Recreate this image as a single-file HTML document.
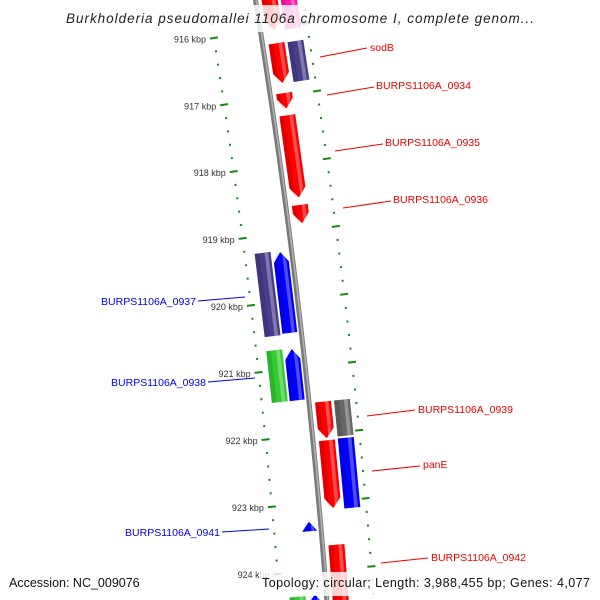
<!DOCTYPE html>
<html><head><meta charset="utf-8"><style>
html,body{margin:0;padding:0;background:#fff;width:600px;height:600px;overflow:hidden;}
svg{display:block;font-family:"Liberation Sans",sans-serif;}
</style></head><body>
<svg id="map" width="600" height="600" viewBox="0 0 600 600" overflow="hidden" xmlns="http://www.w3.org/2000/svg">
<g id="rulers"></g>
<g id="backbone"></g>
<g id="genes"></g>
<g id="labels"></g>
<rect x="58" y="5" width="484" height="27" fill="#fff" opacity="0.82"/>
<text x="300" y="23" text-anchor="middle" font-size="13.5" font-style="italic" fill="#222" textLength="468">Burkholderia pseudomallei 1106a chromosome I, complete genom...</text>
<rect x="6" y="572" width="142" height="24" fill="#fff" opacity="0.82"/>
<text x="9" y="587" font-size="12.5" fill="#111">Accession: NC_009076</text>
<rect x="259" y="572" width="334" height="24" fill="#fff" opacity="0.82"/>
<text x="590" y="587" text-anchor="end" font-size="12.5" fill="#111" textLength="328">Topology: circular; Length: 3,988,455 bp; Genes: 4,077</text>
</svg>
<script>
const R = 7143, CX = 347.5 - 7143, CY = 1143;
const A0 = 0.15636, DK = 0.009511;
const NS = 'http://www.w3.org/2000/svg';
function P(k, v){ const a = A0 - (k - 916) * DK, r = R + v; return [CX + r*Math.cos(a), CY - r*Math.sin(a)]; }
function pts(arr){ return arr.map(p => P(p[0], p[1]).map(n => n.toFixed(2)).join(',')).join(' '); }

const tickKbp = [915, 916, 917, 918, 919, 920, 921, 922, 923, 924, 925];
const tickLabels = ['915 kbp','916 kbp','917 kbp','918 kbp','919 kbp','920 kbp','921 kbp','922 kbp','923 kbp','924 kbp','925 kbp'];
const geneStart = [915.0, 915.0, 916.22, 916.23, 916.96, 917.29, 918.62, 921.53, 921.53, 922.10, 922.09, 923.64, 919.27, 919.25, 920.71, 920.70, 923.27, 924.34, 924.36];
const geneEnd   = [916.02, 916.04, 916.81, 916.82, 917.19, 918.51, 918.89, 922.07, 922.06, 923.10, 923.12, 925.2, 920.47, 920.49, 921.47, 921.47, 923.41, 925.2, 925.2];
const geneLane  = [1, 2, 1, 2, 1, 1, 1, 1, 2, 1, 2, 1, -1, -2, -1, -2, -1, -1, -2];
const geneStrand= [1, 0, 1, 0, 1, 1, 1, 1, 0, 1, 0, 1, -1, 0, -1, 0, -1, -1, 0];
const geneColor = ['#ff0000','#ff1aa6','#ff0000','#483d8b','#ff0000','#ff0000','#ff0000','#ff0000','#666666','#ff0000','#0000ff','#ff0000','#0000ff','#483d8b','#0000ff','#33cc33','#0000ff','#0000ff','#33cc33'];
const laneV = {1:[6,22], 2:[25,41], '-1':[-19,-4], '-2':[-37,-21]};

function el(tag, attrs, parent){ const e = document.createElementNS(NS, tag); for (const k in attrs) e.setAttribute(k, attrs[k]); parent.appendChild(e); return e; }

const rul = document.getElementById('rulers');
[-47, 47].forEach(side => {
  for (let i = 0; i <= 50; i++) {
    const k = 915 + i * 0.2;
    const major = i % 5 === 0;
    const len = major ? 4 : 1;
    const a = P(k, side - len), b = P(k, side + len);
    const t = el('line', {x1:a[0], y1:a[1], x2:b[0], y2:b[1], stroke:'#138a13', 'stroke-width': 2}, rul);
    
    
  }
});
tickKbp.forEach((k, i) => {
  const p = P(k, -55);
  const t = el('text', {x:p[0], y:p[1]+3.5, 'text-anchor':'end', 'font-size':9, fill:'#333'}, rul);
  
  
  t.textContent = tickLabels[i];
});

const bb = document.getElementById('backbone');
let d1 = [];
for (let k = 914.5; k <= 925.2; k += 0.25) d1.push(P(k, 0).map(n=>n.toFixed(2)).join(','));
const bl = el('polyline', {points:d1.join(' '), fill:'none', stroke:'#7a7a7a', 'stroke-width':5}, bb);


const bh = el('polyline', {points:d1.join(' '), fill:'none', stroke:'#b0b0b0', 'stroke-width':1.6, transform:'translate(0.8,0)'}, bb);



const gg = document.getElementById('genes');
geneStart.forEach((s, i) => {
  const e = geneEnd[i], [v1, v2] = laneV[geneLane[i]], vm = (v1+v2)/2;
  const h = Math.min(0.15, e - s);
  let poly;
  if (geneStrand[i] === 1) poly = [[s,v1],[s,v2],[e-h,v2],[e,vm],[e-h,v1]];
  else if (geneStrand[i] === -1) poly = [[s,vm],[s+h,v2],[e,v2],[e,v1],[s+h,v1]];
  else poly = [[s,v1],[s,v2],[e,v2],[e,v1]];
  const g = el('g', {}, gg);
  
  
  el('polygon', {points:pts(poly), fill:geneColor[i]}, g);
  const w = v2 - v1;
  const clip = (a, b) => poly.map(p => [p[0], Math.max(v1 + a*w, Math.min(v1 + b*w, p[1]))]);
  el('polygon', {points:pts(clip(0, 0.3)), fill:'#000', opacity:0.12}, g);
  el('polygon', {points:pts(clip(0.62, 0.85)), fill:'#fff', opacity:0.3}, g);
});

const lab = document.getElementById('labels');
const labelsR = [['sodB',320,57,367,48,370,51],['BURPS1106A_0934',327,95,374,87,376,89],['BURPS1106A_0935',335,151,383,144,385,146],['BURPS1106A_0936',343,208,391,201,393,203],['BURPS1106A_0939',367,416,415,410,418,413],['panE',372,471,420,466,423,468],['BURPS1106A_0942',381,563,428,558,431,561]];
const labelsL = [['BURPS1106A_0937',245,297,198,301,196,305],['BURPS1106A_0938',255,378,208,382,206,386],['BURPS1106A_0941',269,529,222,532,220,536]];
labelsR.concat(labelsL).forEach((L, i) => {
  const left = i >= labelsR.length, col = left ? '#0000ee' : '#ee0000';
  const ln = el('line', {x1:L[1], y1:L[2], x2:L[3], y2:L[4], stroke:col, 'stroke-width':1}, lab);
  
  
  const t = el('text', {x:L[5], y:L[6], 'font-size':10.5, fill:col, 'text-anchor': left ? 'end' : 'start'}, lab);
  
  
  t.textContent = L[0];
});
</script>
</body></html>
